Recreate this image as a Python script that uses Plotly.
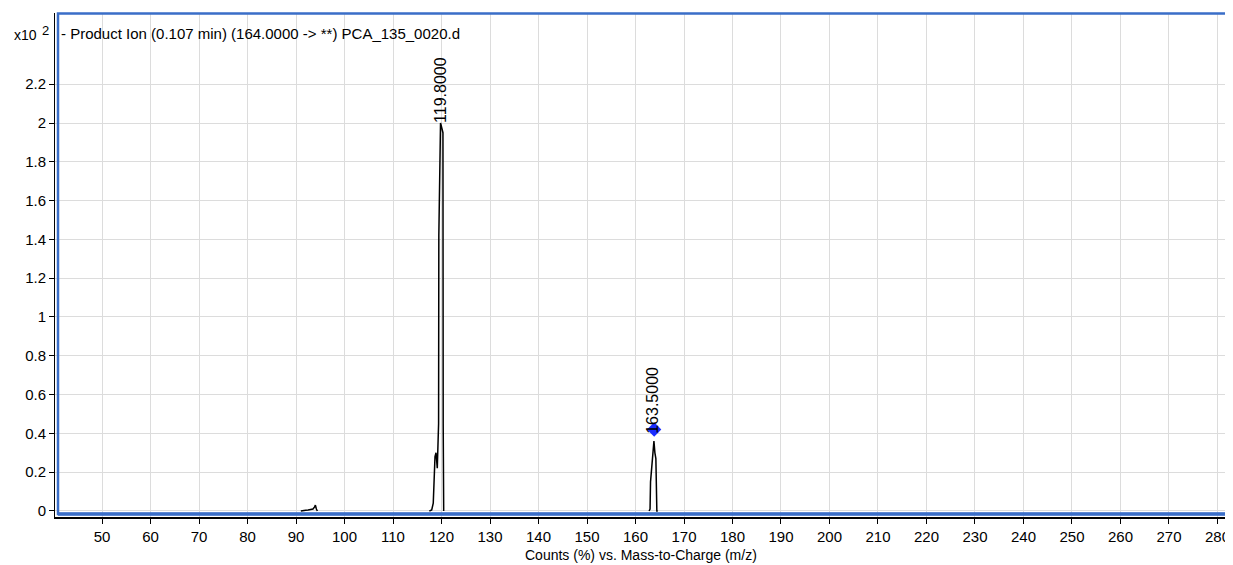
import plotly.graph_objects as go

# Spectrum data (m/z, counts x10^2); None separates the peak clusters
mz = [91.0, 91.5, 92.0, 92.5, 93.0, 93.5, 93.8, 94.0, 94.2, 94.4, None,
      117.5, 117.98, 118.3, 118.66, 118.87, 119.13, 119.4, 119.45, 119.8, 120.3, 120.35, 120.45, None,
      162.8, 163.0, 163.1, 163.8, 164.0, 164.2, 164.4, 164.6]
counts = [0.0, 0.003, 0.004, 0.005, 0.008, 0.01, 0.02, 0.03, 0.01, 0.0, None,
          0.0, 0.005, 0.04, 0.28, 0.30, 0.22, 0.45, 1.42, 2.0, 1.95, 0.45, 0.0, None,
          0.0, 0.01, 0.15, 0.36, 0.30, 0.27, 0.0, 0.0]

peak_labels = ["119.8000", "163.5000"]
peak_label_x = [119.9, 163.6]
peak_label_y = [1.99, 0.39]

marker_x = [163.85]
marker_y = [0.42]

x_ticks = list(range(50, 290, 10))
y_ticks = [0, 0.2, 0.4, 0.6, 0.8, 1, 1.2, 1.4, 1.6, 1.8, 2, 2.2]
y_tick_text = ["0", "0.2", "0.4", "0.6", "0.8", "1", "1.2", "1.4", "1.6", "1.8", "2", "2.2"]

title_text = "- Product Ion (0.107 min) (164.0000 -> **) PCA_135_0020.d"
x_title = "Counts (%) vs. Mass-to-Charge (m/z)"

FONT = "Liberation Sans, Arial, sans-serif"
BLUE = "#3a6ec8"

fig = go.Figure()
fig.add_trace(go.Scatter(x=mz, y=counts, mode="lines", connectgaps=False,
                         line=dict(color="black", width=1.5), hoverinfo="skip"))
fig.add_trace(go.Scatter(x=marker_x, y=marker_y, mode="markers",
                         marker=dict(symbol="diamond", color="#1a2cff", size=11), hoverinfo="skip"))

for t, x, y in zip(peak_labels, peak_label_x, peak_label_y):
    fig.add_annotation(x=x, y=y, text=t, textangle=-90, showarrow=False,
                       xanchor="center", yanchor="bottom",
                       font=dict(family=FONT, size=16, color="black"))

fig.add_annotation(xref="paper", yref="paper", x=0.0035, y=0.960, text=title_text,
                   showarrow=False, xanchor="left", yanchor="middle",
                   font=dict(family=FONT, size=15, color="black"))
fig.add_annotation(xref="paper", yref="paper", x=-0.0367, y=0.956, text="x10",
                   showarrow=False, xanchor="left", yanchor="middle",
                   font=dict(family=FONT, size=14, color="black"))
fig.add_annotation(xref="paper", yref="paper", x=-0.0128, y=0.966, text="2",
                   showarrow=False, xanchor="left", yanchor="middle",
                   font=dict(family=FONT, size=13, color="black"))
fig.add_annotation(xref="paper", yref="paper", x=0.5, y=-0.0754, text=x_title,
                   showarrow=False, xanchor="center", yanchor="middle",
                   font=dict(family=FONT, size=14, color="black"))

# Blue frame
fig.add_shape(type="rect", xref="paper", yref="paper", x0=0.00256, x1=0.9995, y0=0.006, y1=0.999,
              line=dict(color=BLUE, width=2.5), fillcolor="rgba(0,0,0,0)", layer="above")
fig.add_shape(type="line", xref="paper", yref="paper", x0=0.00256, x1=0.9995, y0=0.006, y1=0.006,
              line=dict(color=BLUE, width=3.5), layer="above")

fig.update_layout(
    width=1225, height=557,
    margin=dict(l=47, r=6, t=5, b=48, autoexpand=False),
    paper_bgcolor="white", plot_bgcolor="white",
    showlegend=False,
    font=dict(family=FONT, size=14, color="black"),
    xaxis=dict(range=[40.31, 281.96], tickmode="array", tickvals=x_ticks,
               ticktext=[str(v) for v in x_ticks], automargin=False,
               showgrid=True, gridcolor="#dcdcdc", gridwidth=1, zeroline=False,
               showline=True, linecolor="black", linewidth=1.5,
               ticks="outside", ticklen=5, tickcolor="black",
               tickfont=dict(family=FONT, size=15)),
    yaxis=dict(range=[-0.031, 2.567], tickmode="array", tickvals=y_ticks, ticktext=y_tick_text,
               automargin=False,
               showgrid=True, gridcolor="#dcdcdc", gridwidth=1, zeroline=False,
               showline=True, linecolor="black", linewidth=1,
               ticks="outside", ticklen=5, tickcolor="black",
               tickfont=dict(family=FONT, size=15)),
)

fig.write_html("out.html")
